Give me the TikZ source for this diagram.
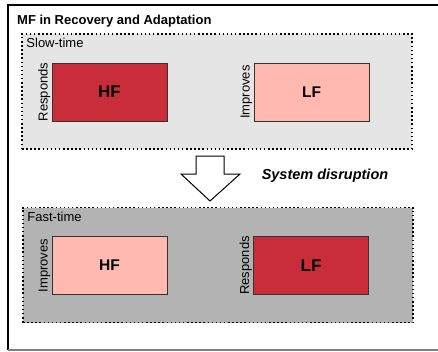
\documentclass[tikz,border=0pt]{standalone}
\usepackage{fontspec}
\setmainfont{Liberation Sans}
\definecolor{hired}{HTML}{C92D39}
\definecolor{lopink}{HTML}{FFB9B0}
\definecolor{slowgray}{HTML}{E5E5E5}
\definecolor{fastgray}{HTML}{B3B3B3}
\definecolor{edgegray}{HTML}{333333}
\begin{document}
\begin{tikzpicture}[x=1pt, y=-1pt,
  zone/.style={draw=black, line width=1.5pt, dash pattern=on 1.5pt off 2.6pt, minimum width=390pt, minimum height=115pt, inner sep=0pt},
  fbox/.style={draw=edgegray, line width=1pt, minimum width=115pt, minimum height=58pt, inner sep=0pt, font=\bfseries},
  darkbox/.style={fbox, fill=hired, font=\fontsize{17}{19}\selectfont\bfseries},
  lightbox/.style={fbox, fill=lopink, font=\fontsize{15.5}{18}\selectfont\bfseries},
  side/.style={rotate=90, anchor=south, inner sep=1pt, font=\fontsize{13}{15}\selectfont},
  zonelabel/.style={anchor=west, inner sep=2pt, font=\fontsize{13}{15}\selectfont}]
  \useasboundingbox (0,0) rectangle (438,351);
  % Outer frame
  \draw[line width=2.3pt] (8,350) -- (8,5) -- (440,5); % Top and left edges
  \draw[gray, line width=1.3pt] (8,350) -- (440,350); % Bottom edge
  \node[anchor=west, inner sep=2pt, font=\fontsize{13}{15}\selectfont\bfseries] (title) at (15,21) {MF in Recovery and Adaptation};

  % Slow-time zone
  \node[zone, fill=slowgray] (slow) at (217,91.5) {};
  \node[zonelabel] (slowlabel) at ([xshift=3pt,yshift=-10pt]slow.north west) {Slow-time};
  \node[darkbox] (hfslow) at (109.5,92) {HF};
  \node[lightbox] (lfslow) at (311.5,92) {LF};
  \node[side] at (hfslow.west) {Responds};
  \node[side] at (lfslow.west) {Improves};

  % Disruption arrow
  \filldraw[fill=white, draw=black, line width=1pt] (196,156) -- (224,156) -- (224,174) -- (240,174) -- (210,201) -- (181,174) -- (196,174) -- cycle;
  \node[font=\fontsize{14.5}{17}\selectfont\bfseries\itshape] (disrupt) at (325,176) {System disruption};

  % Fast-time zone
  \node[zone, fill=fastgray] (fast) at (218,265) {};
  \node[zonelabel] (fastlabel) at ([xshift=3pt,yshift=-10pt]fast.north west) {Fast-time};
  \node[lightbox] (hffast) at (109.5,265.5) {HF};
  \node[darkbox] (lffast) at (311,265.5) {LF};
  \node[side] at (hffast.west) {Improves};
  \node[side] at (lffast.west) {Responds};
\end{tikzpicture}
\end{document}
